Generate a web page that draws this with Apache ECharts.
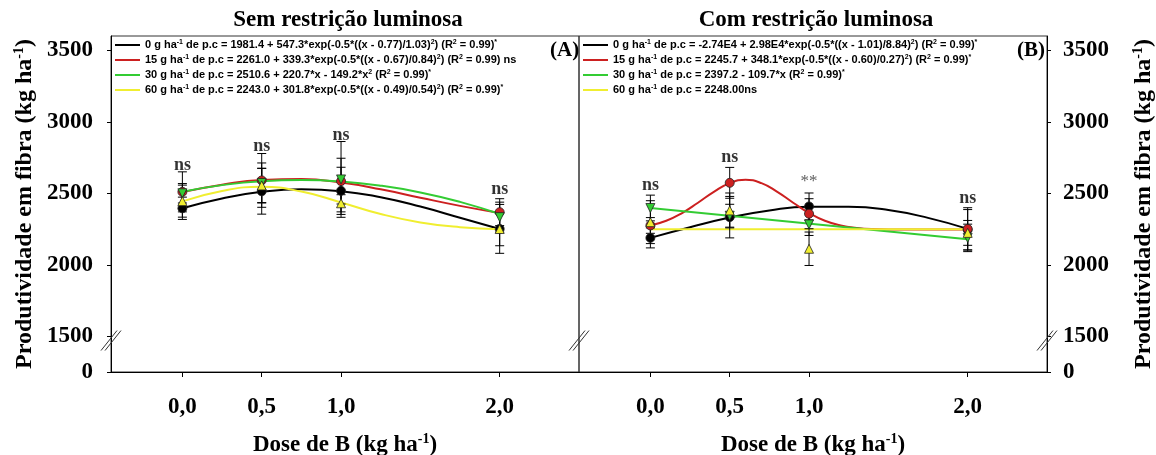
<!DOCTYPE html>
<html>
<head>
<meta charset="utf-8">
<script src="https://cdn.jsdelivr.net/npm/echarts@6/dist/echarts.min.js"></script>
<style>html,body{margin:0;padding:0;background:#fff;}#c{width:1156px;height:455px;}</style>
</head>
<body>
<div id="c"></div>
<script>
// ---------- data ----------
const doses = [0, 0.5, 1, 2];
const xTickValues = [0, 0.5, 1, 2];
const xTickLabels = ['0,0', '0,5', '1,0', '2,0'];
const yTickValues = [1250, 1500, 2000, 2500, 3000, 3500];
const yTickLabels = ['0', '1500', '2000', '2500', '3000', '3500'];
const treatments = ['0', '15', '30', '60'];

const curveX = [0, 0.25, 0.5, 0.75, 1, 1.25, 1.5, 1.75, 2];
const curveXFine = [0, 0.1, 0.2, 0.3, 0.4, 0.5, 0.6, 0.7, 0.8, 0.9, 1.0, 1.1, 1.2, 1.3, 1.4, 1.6, 1.8, 2.0];
const curveXLine = [0, 2];

// Panel A - Sem restrição luminosa
const meanA0 = [2395, 2514, 2517, 2251];
const meanA15 = [2510, 2590, 2585, 2368];
const meanA30 = [2500, 2572, 2597, 2333];
const meanA60 = [2445, 2555, 2430, 2250];
const seA0 = [78, 160, 165, 171];
const seA15 = [140, 188, 160, 94];
const seA30 = [68, 140, 265, 105];
const seA60 = [112, 120, 60, 117];
const curveA0 = [2395, 2463, 2510, 2528, 2515, 2472, 2407, 2329, 2250];
const curveA15 = [2508, 2560, 2593, 2599, 2575, 2528, 2469, 2412, 2362];
const curveA30 = [2511, 2557, 2584, 2592, 2582, 2553, 2506, 2440, 2355];
const curveA60 = [2443, 2516, 2545, 2512, 2436, 2355, 2296, 2263, 2249];
const sigA = ['ns', 'ns', 'ns', 'ns'];
const sigPosA = [2697, 2826, 2908, 2526];

// Panel B - Com restrição luminosa
const meanB0 = [2188, 2333, 2408, 2245];
const meanB15 = [2275, 2573, 2357, 2251];
const meanB30 = [2397, 2343, 2282, 2188];
const meanB60 = [2298, 2380, 2112, 2223];
const seB0 = [70, 145, 94, 141];
const seB15 = [55, 108, 105, 148];
const seB30 = [90, 80, 77, 96];
const seB60 = [150, 122, 117, 87];
const curveB0 = [2188, 2262, 2330, 2380, 2405, 2405, 2383, 2328, 2251];
const curveB15 = [2275, 2308, 2362, 2434, 2510, 2571, 2594, 2571, 2510, 2434, 2362, 2308, 2275, 2258, 2250, 2246, 2246, 2246];
const curveB30 = [2397, 2178];
const curveB60 = [2248, 2248];
const sigB = ['ns', 'ns', '**', 'ns'];
const sigPosB = [2556, 2748, 2584, 2462];

const eqA = [
  '0 g ha{s|-1} de p.c = 1981.4 + 547.3*exp(-0.5*((x - 0.77)/1.03){s|2}) (R{s|2} = 0.99){s|*}',
  '15 g ha{s|-1} de p.c = 2261.0 + 339.3*exp(-0.5*((x - 0.67)/0.84){s|2}) (R{s|2} = 0.99) ns',
  '30 g ha{s|-1} de p.c = 2510.6 + 220.7*x - 149.2*x{s|2} (R{s|2} = 0.99){s|*}',
  '60 g ha{s|-1} de p.c = 2243.0 + 301.8*exp(-0.5*((x - 0.49)/0.54){s|2}) (R{s|2} = 0.99){s|*}'
];
const eqB = [
  '0 g ha{s|-1} de p.c = -2.74E4 + 2.98E4*exp(-0.5*((x - 1.01)/8.84){s|2}) (R{s|2} = 0.99){s|*}',
  '15 g ha{s|-1} de p.c = 2245.7 + 348.1*exp(-0.5*((x - 0.60)/0.27){s|2}) (R{s|2} = 0.99){s|*}',
  '30 g ha{s|-1} de p.c = 2397.2 - 109.7*x (R{s|2} = 0.99){s|*}',
  '60 g ha{s|-1} de p.c = 2248.00ns'
];

// ---------- styles ----------
const colors = ['#000000', '#cc2020', '#33cc33', '#f0ee30'];
const symbols = ['circle', 'circle', 'triangle', 'triangle'];
const rotations = [0, 0, 180, 0];
const serif = 'Liberation Serif';
const sans = 'Liberation Sans';

const panels = [
  {
    key: 'A', means: [meanA0, meanA15, meanA30, meanA60], se: [seA0, seA15, seA30, seA60],
    curves: [curveA0, curveA15, curveA30, curveA60], cx: [curveX, curveX, curveX, curveX],
    sig: sigA, sigPos: sigPosA, eq: eqA
  },
  {
    key: 'B', means: [meanB0, meanB15, meanB30, meanB60], se: [seB0, seB15, seB30, seB60],
    curves: [curveB0, curveB15, curveB30, curveB60], cx: [curveX, curveXFine, curveXLine, curveXLine],
    sig: sigB, sigPos: sigPosB, eq: eqB
  }
];

const eqMap = {};
panels.forEach(p => treatments.forEach((t, i) => { eqMap[p.key + t] = p.eq[i]; }));

function renderErr(params, api) {
  const x = api.value(0), m = api.value(1), e = api.value(2);
  const top = api.coord([x, m + e]);
  const bot = api.coord([x, m - e]);
  const w = 4.5;
  const st = { stroke: '#000', lineWidth: 1 };
  return {
    type: 'group',
    children: [
      { type: 'line', shape: { x1: top[0], y1: top[1], x2: bot[0], y2: bot[1] }, style: st },
      { type: 'line', shape: { x1: top[0] - w, y1: top[1], x2: top[0] + w, y2: top[1] }, style: st },
      { type: 'line', shape: { x1: bot[0] - w, y1: bot[1], x2: bot[0] + w, y2: bot[1] }, style: st }
    ]
  };
}

const series = [];
panels.forEach((p, pi) => {
  treatments.forEach((t, i) => {
    series.push({
      type: 'line', name: p.key + t, xAxisIndex: pi, yAxisIndex: pi,
      data: p.cx[i].map((x, k) => [x, p.curves[i][k]]),
      smooth: true, showSymbol: false, symbol: 'none',
      lineStyle: { color: colors[i], width: 2 }, itemStyle: { color: colors[i] },
      z: 2, silent: true
    });
  });
  treatments.forEach((t, i) => {
    series.push({
      type: 'custom', name: p.key + t + ' erro', xAxisIndex: pi, yAxisIndex: pi,
      data: doses.map((x, k) => [x, p.means[i][k], p.se[i][k]]),
      encode: { x: 0, y: 1 }, renderItem: renderErr, z: 3, silent: true
    });
  });
  treatments.forEach((t, i) => {
    series.push({
      type: 'scatter', name: p.key + t + ' média', xAxisIndex: pi, yAxisIndex: pi,
      data: doses.map((x, k) => [x, p.means[i][k]]),
      symbol: symbols[i], symbolRotate: rotations[i], symbolSize: 9,
      itemStyle: { color: colors[i], borderColor: '#222', borderWidth: 0.8, opacity: 1 },
      z: 4, silent: true
    });
  });
  series.push({
    type: 'scatter', name: p.key + ' sig', xAxisIndex: pi, yAxisIndex: pi,
    data: doses.map((x, k) => {
      const d = [x, p.sigPos[k]];
      return p.sig[k] === '**'
        ? { value: d, label: { fontWeight: 'normal', fontSize: 17, color: '#333' } }
        : d;
    }),
    symbolSize: 0, silent: true, z: 5,
    label: {
      show: true, position: 'inside',
      formatter: prm => p.sig[prm.dataIndex],
      fontFamily: serif, fontWeight: 'bold', fontSize: 18, color: '#000'
    }
  });
});

function xAxisDef(gi) {
  return {
    type: 'value', gridIndex: gi, min: -0.45, max: 2.5,
    axisLine: { onZero: false, lineStyle: { color: '#000', width: 1 } },
    axisTick: { show: true, customValues: xTickValues, length: 5, lineStyle: { color: '#000' } },
    axisLabel: {
      customValues: xTickValues, formatter: v => xTickLabels[xTickValues.indexOf(v)],
      fontFamily: serif, fontWeight: 'bold', fontSize: 23, color: '#000', margin: 24
    },
    splitLine: { show: false },
    name: 'Dose de B (kg ha{s|-1})', nameLocation: 'middle', nameGap: 60,
    nameTextStyle: {
      fontFamily: serif, fontWeight: 'bold', fontSize: 23, color: '#000', lineHeight: 26,
      rich: { s: { fontFamily: serif, fontWeight: 'bold', fontSize: 14, verticalAlign: 'top', lineHeight: 18, color: '#000' } }
    }
  };
}
function yAxisDef(gi, pos) {
  return {
    type: 'value', gridIndex: gi, position: pos, min: 1250, max: 3600,
    axisLine: { show: true, onZero: false, lineStyle: { color: '#000', width: 1 } },
    axisTick: { show: true, customValues: yTickValues, length: 4, lineStyle: { color: '#000' } },
    axisLabel: {
      customValues: yTickValues, formatter: v => yTickLabels[yTickValues.indexOf(v)],
      fontFamily: serif, fontWeight: 'bold', fontSize: 23, color: '#000', margin: pos === 'left' ? 18 : 16
    },
    splitLine: { show: false },
    name: 'Produtividade em fibra (kg ha{s|-1})', nameLocation: 'middle', nameRotate: 90,
    nameGap: pos === 'left' ? 73 : 84,
    nameTextStyle: {
      fontFamily: serif, fontWeight: 'bold', fontSize: 24, color: '#000', lineHeight: 26,
      rich: { s: { fontFamily: serif, fontWeight: 'bold', fontSize: 14, verticalAlign: 'top', lineHeight: 18, color: '#000' } }
    }
  };
}

function legendDef(key, left) {
  return {
    left: left, top: 39, padding: 0, orient: 'vertical', itemWidth: 25, itemHeight: 2, itemGap: 3,
    icon: 'rect', selectedMode: false,
    data: treatments.map(t => key + t),
    formatter: n => eqMap[n],
    textStyle: {
      fontFamily: sans, fontWeight: 'bold', fontSize: 11, color: '#000', lineHeight: 12,
      rich: { s: { fontFamily: sans, fontWeight: 'bold', fontSize: 7, verticalAlign: 'top', lineHeight: 12, color: '#000' } }
    }
  };
}

const titleStyle = { fontFamily: serif, fontWeight: 'bold', fontSize: 23, color: '#000' };

const option = {
  animation: false,
  backgroundColor: '#fff',
  title: [
    { text: 'Sem restrição luminosa', left: 343, top: 4, textAlign: 'center', textStyle: titleStyle },
    { text: 'Com restrição luminosa', left: 811, top: 4, textAlign: 'center', textStyle: titleStyle },
    { text: '(A)', left: 545, top: 35, textStyle: Object.assign({}, titleStyle, { fontSize: 21 }) },
    { text: '(B)', left: 1012, top: 35, textStyle: Object.assign({}, titleStyle, { fontSize: 21 }) }
  ],
  legend: [legendDef('A', 115), legendDef('B', 583)],
  grid: [
    { left: 111, top: 36, width: 468, height: 336, show: true, borderColor: '#333', borderWidth: 1, backgroundColor: 'transparent', containLabel: false, outerBoundsMode: 'none' },
    { left: 579, top: 36, width: 468, height: 336, show: true, borderColor: '#333', borderWidth: 1, backgroundColor: 'transparent', containLabel: false, outerBoundsMode: 'none' }
  ],
  xAxis: [xAxisDef(0), xAxisDef(1)],
  yAxis: [yAxisDef(0, 'left'), yAxisDef(1, 'right')],
  series: series
};

const chart = echarts.init(document.getElementById('c'), null, { renderer: 'canvas' });
chart.setOption(option);

// axis break marks
const breakVal = 1470;
const pts = [
  chart.convertToPixel({ xAxisIndex: 0, yAxisIndex: 0 }, [-0.45, breakVal]),
  chart.convertToPixel({ xAxisIndex: 0, yAxisIndex: 0 }, [2.5, breakVal]),
  chart.convertToPixel({ xAxisIndex: 1, yAxisIndex: 1 }, [2.5, breakVal])
];
const graphics = [];
pts.forEach(p => {
  [-2, 2].forEach(off => {
    graphics.push({
      type: 'line', silent: true, z: 10,
      shape: { x1: p[0] + off - 8, y1: p[1] + 10, x2: p[0] + off + 8, y2: p[1] - 10 },
      style: { stroke: '#333', lineWidth: 1 }
    });
  });
});
chart.setOption({ graphic: graphics });
</script>
</body>
</html>
